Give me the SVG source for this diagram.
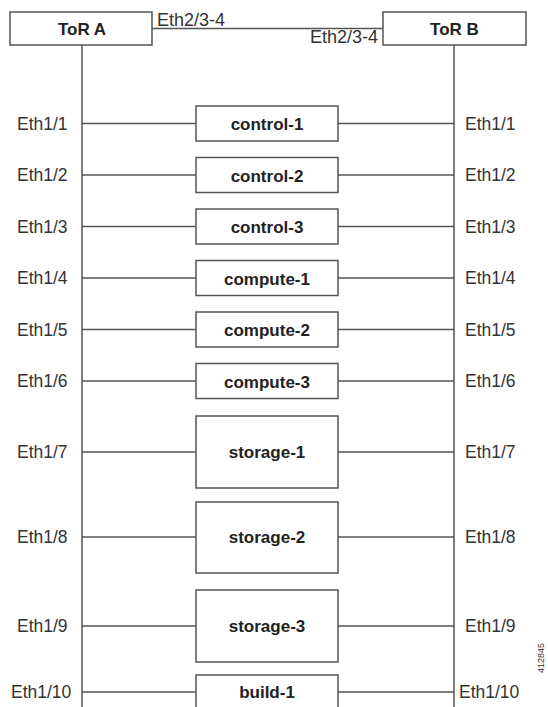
<svg xmlns="http://www.w3.org/2000/svg" width="548" height="707" viewBox="0 0 548 707">
<style>
.box{fill:#fff;stroke:#555;stroke-width:1.5}
.ln{stroke:#555;stroke-width:1.5;fill:none}
.nl{font-family:"Liberation Sans",Arial,sans-serif;font-size:17px;font-weight:bold;fill:#222;text-anchor:middle}
.pl{font-family:"Liberation Sans",Arial,sans-serif;font-size:17.5px;fill:#333}
.pr{font-family:"Liberation Sans",Arial,sans-serif;font-size:18px;fill:#333;text-anchor:end}
</style>
<rect width="548" height="707" fill="#fff"/>
<g id="connectors">
<line class="ln" x1="152" y1="28.5" x2="383" y2="28.5"/>
<line class="ln" x1="82" y1="45" x2="82" y2="707"/>
<line class="ln" x1="454" y1="45" x2="454" y2="707"/>
<line class="ln" x1="82" y1="123.5" x2="196" y2="123.5"/><line class="ln" x1="338" y1="123.5" x2="454" y2="123.5"/>
<line class="ln" x1="82" y1="175" x2="196" y2="175"/><line class="ln" x1="338" y1="175" x2="454" y2="175"/>
<line class="ln" x1="82" y1="226.5" x2="196" y2="226.5"/><line class="ln" x1="338" y1="226.5" x2="454" y2="226.5"/>
<line class="ln" x1="82" y1="278" x2="196" y2="278"/><line class="ln" x1="338" y1="278" x2="454" y2="278"/>
<line class="ln" x1="82" y1="329.5" x2="196" y2="329.5"/><line class="ln" x1="338" y1="329.5" x2="454" y2="329.5"/>
<line class="ln" x1="82" y1="381" x2="196" y2="381"/><line class="ln" x1="338" y1="381" x2="454" y2="381"/>
<line class="ln" x1="82" y1="452" x2="196" y2="452"/><line class="ln" x1="338" y1="452" x2="454" y2="452"/>
<line class="ln" x1="82" y1="537" x2="196" y2="537"/><line class="ln" x1="338" y1="537" x2="454" y2="537"/>
<line class="ln" x1="82" y1="626" x2="196" y2="626"/><line class="ln" x1="338" y1="626" x2="454" y2="626"/>
<line class="ln" x1="82" y1="692" x2="196" y2="692"/><line class="ln" x1="338" y1="692" x2="454" y2="692"/>
<text class="pl" x="157" y="26" style="font-size:18px">Eth2/3-4</text>
<text class="pr" x="378" y="43">Eth2/3-4</text>
</g>
<g id="tor-a"><rect class="box" x="10" y="12" width="142" height="33"/><text class="nl" x="82" y="35">ToR A</text></g>
<g id="tor-b"><rect class="box" x="383" y="12" width="143" height="33"/><text class="nl" x="454.5" y="35">ToR B</text></g>
<g id="ports-a">
<text class="pl" x="17" y="130">Eth1/1</text>
<text class="pl" x="17" y="181">Eth1/2</text>
<text class="pl" x="17" y="233">Eth1/3</text>
<text class="pl" x="17" y="284">Eth1/4</text>
<text class="pl" x="17" y="336">Eth1/5</text>
<text class="pl" x="17" y="387">Eth1/6</text>
<text class="pl" x="17" y="458">Eth1/7</text>
<text class="pl" x="17" y="543">Eth1/8</text>
<text class="pl" x="17" y="632">Eth1/9</text>
<text class="pl" x="11" y="698">Eth1/10</text>
</g>
<g id="ports-b">
<text class="pl" x="465" y="130">Eth1/1</text>
<text class="pl" x="465" y="181">Eth1/2</text>
<text class="pl" x="465" y="233">Eth1/3</text>
<text class="pl" x="465" y="284">Eth1/4</text>
<text class="pl" x="465" y="336">Eth1/5</text>
<text class="pl" x="465" y="387">Eth1/6</text>
<text class="pl" x="465" y="458">Eth1/7</text>
<text class="pl" x="465" y="543">Eth1/8</text>
<text class="pl" x="465" y="632">Eth1/9</text>
<text class="pl" x="459" y="698">Eth1/10</text>
</g>
<g id="control-1"><rect class="box" x="196" y="106" width="142" height="35"/><text class="nl" x="267" y="130">control-1</text></g>
<g id="control-2"><rect class="box" x="196" y="157.5" width="142" height="35"/><text class="nl" x="267" y="181.5">control-2</text></g>
<g id="control-3"><rect class="box" x="196" y="209" width="142" height="35"/><text class="nl" x="267" y="233">control-3</text></g>
<g id="compute-1"><rect class="box" x="196" y="260.5" width="142" height="35"/><text class="nl" x="267" y="284.5">compute-1</text></g>
<g id="compute-2"><rect class="box" x="196" y="312" width="142" height="35"/><text class="nl" x="267" y="336">compute-2</text></g>
<g id="compute-3"><rect class="box" x="196" y="363.5" width="142" height="35"/><text class="nl" x="267" y="387.5">compute-3</text></g>
<g id="storage-1"><rect class="box" x="196" y="416" width="142" height="72"/><text class="nl" x="267" y="458">storage-1</text></g>
<g id="storage-2"><rect class="box" x="196" y="502" width="142" height="71"/><text class="nl" x="267" y="543">storage-2</text></g>
<g id="storage-3"><rect class="box" x="196" y="590" width="142" height="72"/><text class="nl" x="267" y="632">storage-3</text></g>
<g id="build-1"><rect class="box" x="196" y="675" width="142" height="40"/><text class="nl" x="267" y="698">build-1</text></g>
<text x="544" y="658" transform="rotate(-90 544 658)" font-family="'Liberation Sans',Arial,sans-serif" font-size="9" fill="#333" text-anchor="middle">412845</text>
</svg>
